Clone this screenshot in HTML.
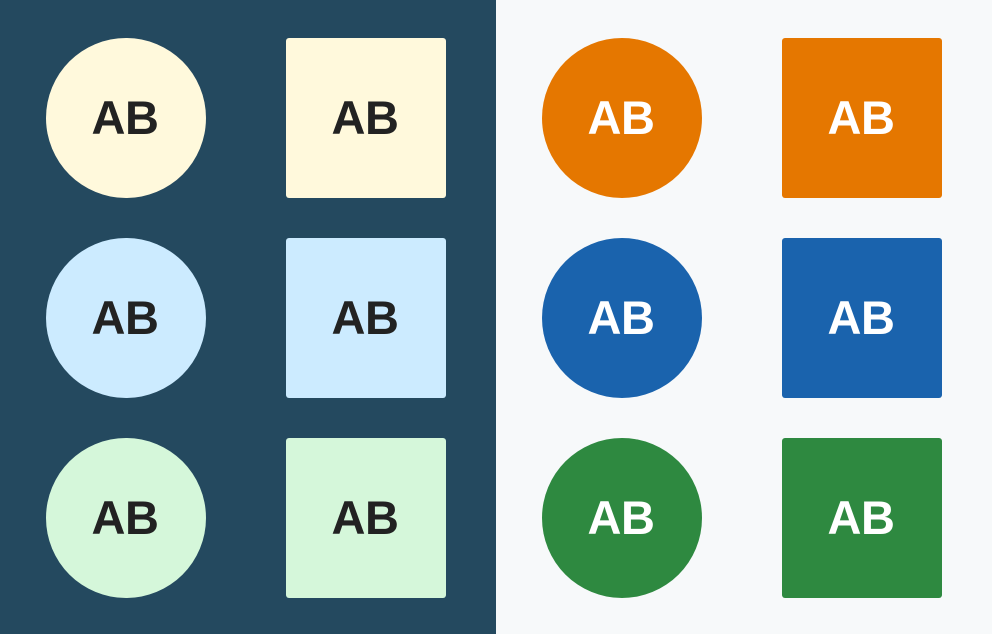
<!DOCTYPE html>
<html><head><meta charset="utf-8"><style>
html,body{margin:0;padding:0;width:992px;height:634px;overflow:hidden}
.panel{position:absolute;top:0;height:634px;width:496px}
.a{position:absolute;width:160px;height:160px;display:flex;align-items:center;justify-content:center;font-family:"Liberation Sans",sans-serif;font-weight:bold;font-size:47px;letter-spacing:-0.5px}
.a span{position:relative;left:-1px;top:-1px}
.c{border-radius:50%}.s{border-radius:3px}
.d{color:#222}.w{color:#fff}
</style></head><body>
<div class="panel" style="left:0;background:#24495F"></div>
<div class="panel" style="left:496px;background:#F7F9FA"></div>

<div class="a c d" style="left:46px;top:38px;background:#FFF9DC"><span>AB</span></div>
<div class="a s d" style="left:286px;top:38px;background:#FFF9DC"><span>AB</span></div>
<div class="a c d" style="left:46px;top:238px;background:#CCEBFF"><span>AB</span></div>
<div class="a s d" style="left:286px;top:238px;background:#CCEBFF"><span>AB</span></div>
<div class="a c d" style="left:46px;top:438px;background:#D5F7DA"><span>AB</span></div>
<div class="a s d" style="left:286px;top:438px;background:#D5F7DA"><span>AB</span></div>

<div class="a c w" style="left:542px;top:38px;background:#E57700"><span>AB</span></div>
<div class="a s w" style="left:782px;top:38px;background:#E57700"><span>AB</span></div>
<div class="a c w" style="left:542px;top:238px;background:#1A63AD"><span>AB</span></div>
<div class="a s w" style="left:782px;top:238px;background:#1A63AD"><span>AB</span></div>
<div class="a c w" style="left:542px;top:438px;background:#2E8940"><span>AB</span></div>
<div class="a s w" style="left:782px;top:438px;background:#2E8940"><span>AB</span></div>
</body></html>
